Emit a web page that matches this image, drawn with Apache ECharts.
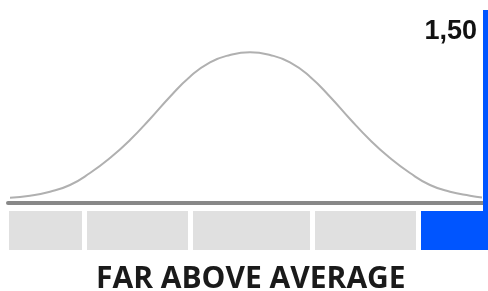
<!DOCTYPE html>
<html lang="en">
<head>
  <meta charset="UTF-8">
  <title>Far above average</title>
  <style>
    html, body { margin: 0; padding: 0; background: #fff; }
    #main { width: 488px; height: 291px; }
  </style>
</head>
<body>
<div id="main"></div>
<script src="https://cdn.jsdelivr.net/npm/echarts@6/dist/echarts.min.js"></script>
<script>
// bell curve (x along the scale, y height above the base line)
var curveX = [2, 22, 42, 62, 82, 102, 122, 142, 162, 182, 202, 222, 242, 262, 282, 302, 322, 342, 362, 382, 402, 422, 442, 462, 474];
var curveY = [5.3, 7.3, 11.3, 18, 30, 45, 63, 84, 106.3, 126.3, 140.7, 148, 150.7, 148, 140.7, 126.3, 106.3, 84, 63, 45, 30, 18, 11.3, 7.3, 5.5];
// score bands under the curve (start, end) and which one is active
var bandStart = [1, 79, 185, 307, 413];
var bandEnd = [74, 180, 302, 408, 480];
var bandActive = [0, 0, 0, 0, 1];
var markerX = 477.7;
var scoreText = '1,50';
var ratingText = 'FAR ABOVE AVERAGE';

var curveData = [];
for (var i = 0; i < curveX.length; i++) {
  curveData.push([curveX[i], curveY[i]]);
}
var bandData = [];
for (var i = 0; i < bandStart.length; i++) {
  bandData.push([bandStart[i], bandEnd[i], bandActive[i]]);
}

var myChart = echarts.init(document.getElementById('main'));
var option = {
  animation: false,
  title: [
    {
      text: scoreText,
      right: 6,
      top: 13,
      textStyle: { fontFamily: 'Liberation Sans', fontWeight: 'bold', fontSize: 27, color: '#111' }
    },
    {
      text: ratingText,
      left: 91,
      top: 259,
      textStyle: { fontFamily: 'Open Sans', fontWeight: 'bold', fontSize: 30, color: '#1a1a1a' }
    }
  ],
  grid: [
    { left: 8, right: 0, top: 10, bottom: 80 },
    { left: 8, right: 0, top: 211, height: 39 }
  ],
  xAxis: [
    {
      type: 'value', gridIndex: 0, min: 0, max: 480,
      axisLine: { show: true, onZero: true, lineStyle: { color: '#888', width: 4 } },
      axisTick: { show: false }, axisLabel: { show: false }, splitLine: { show: false }
    },
    {
      type: 'value', gridIndex: 1, min: 0, max: 480,
      axisLine: { show: false }, axisTick: { show: false }, axisLabel: { show: false }, splitLine: { show: false }
    }
  ],
  yAxis: [
    {
      type: 'value', gridIndex: 0, min: -8, max: 193,
      axisLine: { show: false }, axisTick: { show: false }, axisLabel: { show: false }, splitLine: { show: false }
    },
    {
      type: 'value', gridIndex: 1, min: 0, max: 1,
      axisLine: { show: false }, axisTick: { show: false }, axisLabel: { show: false }, splitLine: { show: false }
    }
  ],
  series: [
    {
      type: 'line',
      xAxisIndex: 0,
      yAxisIndex: 0,
      data: curveData,
      smooth: true,
      symbol: 'none',
      lineStyle: { color: '#b0b0b0', width: 2 },
      markLine: {
        silent: true,
        symbol: 'none',
        label: { show: false },
        lineStyle: { color: '#0055ff', width: 5, type: 'solid' },
        data: [{ xAxis: markerX }]
      }
    },
    {
      type: 'custom',
      xAxisIndex: 1,
      yAxisIndex: 1,
      data: bandData,
      renderItem: function (params, api) {
        var s = api.coord([api.value(0), 0]);
        var e = api.coord([api.value(1), 0]);
        return {
          type: 'rect',
          shape: { x: s[0], y: params.coordSys.y, width: e[0] - s[0], height: params.coordSys.height },
          style: { fill: api.value(2) == 1 ? '#0055ff' : '#e0e0e0' }
        };
      }
    }
  ]
};
myChart.setOption(option);
</script>
</body>
</html>
